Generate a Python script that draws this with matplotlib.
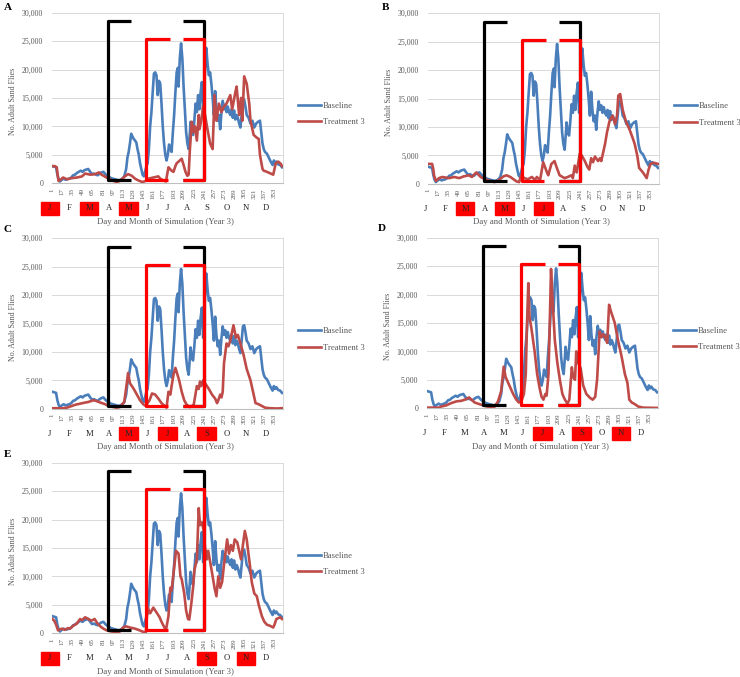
import matplotlib
matplotlib.use('Agg')
import matplotlib.pyplot as plt
from matplotlib.lines import Line2D
from matplotlib.patches import Rectangle
from matplotlib.ticker import FuncFormatter

plt.rcParams['font.family'] = ['Liberation Serif', 'DejaVu Serif']

BLUE = '#4A7EBB'
RED = '#BE4B48'
GREY = '#595959'

months = ['J', 'F', 'M', 'A', 'M', 'J', 'J', 'A', 'S', 'O', 'N', 'D']
day_ticks = list(range(1, 366, 16))
y_ticks = list(range(0, 30001, 5000))

# (day, adult sand flies)
baseline = [
    (1, 3000), (4, 2900), (7, 2800), (9, 1500), (11, 700), (13, 300), (16, 600), (19, 800),
    (22, 600), (25, 700), (28, 800), (31, 1000), (34, 1400), (37, 1500), (40, 1800), (43, 2000),
    (46, 2200), (49, 2000), (52, 2300), (55, 2400), (58, 2500), (61, 2000), (64, 1600), (67, 1700),
    (70, 1500), (73, 1400), (76, 1700), (79, 1900), (82, 2000), (85, 1600), (88, 1300), (91, 1100),
    (94, 900), (97, 800), (100, 700), (103, 600), (106, 500), (109, 600), (112, 800), (115, 1200),
    (118, 2500), (120, 4500), (122, 5500), (124, 7000), (126, 8700), (128, 8200), (130, 7800),
    (132, 7500), (134, 7200), (136, 6000), (138, 5000), (140, 3500), (142, 2500), (144, 1500),
    (146, 1200), (148, 2000), (150, 3000), (152, 3500), (154, 6000), (156, 10000), (158, 12500),
    (160, 16000), (162, 19300), (164, 19500), (166, 19000), (168, 15500), (170, 18000),
    (172, 17500), (174, 14000), (176, 10000), (178, 7000), (180, 5000), (182, 4000), (184, 5000),
    (186, 6800), (188, 6000), (190, 5500), (192, 9000), (194, 12000), (196, 16000), (198, 19500),
    (200, 20300), (201, 17000), (203, 22000), (205, 24600), (207, 22000), (209, 17000),
    (211, 13000), (213, 9000), (215, 7000), (217, 6000), (219, 9000), (220, 10800), (222, 9000),
    (224, 8500), (226, 11000), (228, 14000), (230, 12500), (232, 15500), (234, 13000),
    (236, 16000), (238, 17800), (240, 12500), (243, 20000), (245, 23800), (247, 21000),
    (249, 19000), (251, 19500), (253, 17500), (255, 15000), (257, 12000), (259, 16200),
    (261, 13000), (263, 11000), (265, 12000), (267, 9500), (269, 12500), (271, 14500),
    (273, 13000), (275, 13800), (277, 12500), (279, 13500), (281, 12500), (283, 12000),
    (285, 13000), (287, 11500), (289, 12800), (291, 11200), (293, 12000), (295, 11500),
    (297, 10500), (299, 9800), (301, 12000), (303, 14500), (305, 14700), (307, 13500),
    (309, 12000), (312, 11500), (315, 10500), (318, 11000), (321, 9800), (324, 10500),
    (327, 10800), (330, 11000), (332, 9000), (334, 7000), (336, 6000), (338, 5500), (341, 5200),
    (344, 4500), (347, 3800), (350, 3200), (352, 4000), (354, 3500), (356, 3800), (359, 3300),
    (362, 3200), (365, 2800),
]

treat_a = [
    (1, 3000), (5, 3000), (8, 2800), (10, 1000), (11, 400), (15, 700), (18, 1000), (24, 700),
    (32, 900), (40, 1000), (48, 1200), (53, 1700), (61, 1500), (69, 1600), (75, 1900), (79, 1500),
    (87, 1000), (92, 700), (98, 400), (103, 200), (108, 400), (116, 1200), (121, 1600),
    (127, 1300), (132, 800), (137, 500), (144, 200), (149, 400), (153, 800), (161, 1000),
    (169, 1200), (172, 800), (177, 500), (181, 300), (185, 2800), (190, 2200), (193, 2000),
    (196, 3000), (198, 3500), (203, 4000), (206, 4300), (209, 3200), (212, 2000), (215, 1300),
    (217, 1500), (219, 6000), (222, 10800), (225, 9000), (227, 10000), (230, 7500), (233, 12000),
    (234, 9500), (237, 11000), (240, 13500), (243, 12000), (246, 10000), (251, 7000), (255, 6000),
    (258, 15500), (261, 11000), (265, 14000), (269, 12500), (273, 13500), (277, 14000),
    (283, 15500), (286, 13000), (291, 16000), (293, 17000), (297, 12000), (300, 15000),
    (302, 11000), (305, 18800), (309, 17500), (313, 14000), (315, 11000), (320, 8500),
    (325, 8000), (328, 7800), (330, 5000), (334, 2500), (336, 2200), (341, 2000), (347, 1700),
    (351, 1500), (355, 3500), (359, 3800), (363, 3400), (365, 3000),
]

treat_b = [
    (1, 3500), (7, 3500), (9, 2500), (10, 1500), (13, 500), (18, 1000), (23, 1200), (34, 1000),
    (42, 1200), (50, 1000), (57, 1300), (65, 1500), (70, 1200), (77, 2000), (84, 1200), (91, 800),
    (99, 500), (106, 300), (112, 600), (120, 1300), (125, 1500), (131, 1200), (136, 800),
    (141, 400), (145, 300), (148, 1500), (153, 1000), (159, 800), (165, 1200), (170, 700),
    (173, 1200), (178, 600), (183, 3800), (189, 2000), (191, 1500), (196, 3500), (201, 4000),
    (204, 3000), (209, 1500), (217, 1000), (222, 1200), (228, 1500), (230, 1000), (233, 3200),
    (236, 2000), (241, 5300), (244, 5000), (249, 4000), (253, 3000), (256, 2500), (259, 4500),
    (262, 3800), (265, 4800), (270, 4000), (273, 4500), (275, 4000), (278, 5500), (281, 7000),
    (284, 9000), (288, 11000), (293, 12000), (297, 10500), (300, 12000), (302, 15500),
    (305, 15800), (309, 13000), (314, 11000), (320, 9500), (325, 8000), (328, 7000), (332, 5000),
    (335, 2800), (341, 2000), (344, 1500), (347, 1000), (350, 2500), (353, 3500), (358, 3700),
    (365, 3500),
]

treat_c = [
    (1, 100), (10, 100), (18, 100), (24, 200), (32, 500), (37, 700), (45, 900), (53, 1100),
    (58, 1200), (66, 1500), (70, 1400), (77, 1100), (85, 800), (90, 500), (98, 300), (103, 200),
    (108, 300), (115, 1200), (119, 4500), (121, 6300), (124, 4500), (130, 3500), (135, 2500),
    (140, 1500), (145, 800), (149, 500), (152, 1000), (155, 1500), (159, 2700), (164, 2500),
    (169, 1800), (174, 1000), (180, 400), (182, 200), (185, 3000), (188, 2500), (190, 4000),
    (193, 6000), (196, 7200), (198, 6500), (202, 5000), (206, 3000), (210, 1500), (214, 700),
    (219, 300), (225, 700), (227, 2000), (230, 4000), (233, 3500), (235, 4800), (237, 4000),
    (240, 5000), (243, 4500), (249, 3500), (254, 2500), (259, 1800), (262, 1000), (264, 1500),
    (267, 2500), (269, 2000), (271, 3000), (273, 8000), (277, 11500), (280, 11000), (283, 12000),
    (288, 14700), (292, 12500), (295, 13000), (299, 11500), (304, 9500), (309, 7000),
    (315, 5000), (320, 2500), (323, 1000), (328, 800), (333, 500), (338, 200), (346, 100),
    (357, 50), (365, 100),
]

treat_d = [
    (1, 100), (20, 100), (23, 300), (31, 500), (39, 900), (47, 1200), (55, 1300), (63, 1600),
    (67, 1900), (71, 1500), (76, 1000), (84, 700), (92, 400), (100, 200), (108, 300), (113, 1200),
    (118, 3000), (122, 7300), (125, 5500), (131, 4000), (137, 2500), (142, 1500), (146, 1000),
    (150, 1200), (154, 2500), (157, 6000), (159, 15000), (161, 22000), (163, 16000), (166, 14000),
    (171, 10000), (175, 6000), (179, 3500), (182, 2000), (185, 1500), (188, 2500), (190, 2200),
    (193, 6000), (195, 15000), (197, 24500), (199, 20000), (203, 12000), (207, 8000),
    (211, 5000), (215, 2500), (219, 1500), (223, 800), (226, 1500), (230, 7200), (232, 5500),
    (235, 5000), (237, 10000), (240, 8000), (244, 7000), (248, 4000), (253, 2500), (259, 1800),
    (263, 1500), (267, 2000), (270, 5000), (274, 13500), (277, 12500), (280, 13000),
    (283, 12500), (286, 11500), (289, 18200), (292, 17000), (298, 15000), (303, 12000),
    (309, 9000), (314, 6000), (318, 4500), (321, 1500), (325, 1000), (330, 700), (335, 300),
    (343, 100), (365, 50),
]

treat_e = [
    (1, 2500), (4, 2200), (7, 1500), (10, 500), (16, 800), (21, 600), (26, 900), (29, 800),
    (34, 1300), (40, 1700), (45, 2500), (48, 2300), (53, 2800), (58, 2500), (63, 2200),
    (68, 2500), (72, 1800), (77, 1200), (82, 800), (87, 500), (95, 300), (103, 200), (108, 300),
    (113, 1000), (118, 1200), (124, 1000), (132, 800), (137, 600), (146, 200), (149, 100),
    (152, 4500), (156, 3500), (161, 4500), (167, 3500), (171, 2800), (174, 2000), (181, 500),
    (185, 3000), (188, 8000), (190, 7500), (192, 9500), (195, 12500), (197, 14500), (201, 14000),
    (204, 10000), (206, 9500), (210, 7000), (213, 4000), (216, 2500), (218, 2400), (221, 5000),
    (224, 8000), (226, 11000), (230, 13000), (231, 16000), (233, 22000), (235, 19000),
    (238, 19500), (241, 18000), (243, 15000), (246, 13000), (248, 14500), (252, 12000),
    (255, 10000), (258, 8000), (261, 6500), (264, 10000), (267, 8000), (270, 9000), (273, 12000),
    (278, 16500), (281, 14000), (284, 15500), (287, 14500), (290, 16500), (294, 16000),
    (300, 13000), (306, 18000), (309, 16500), (314, 12000), (317, 9000), (321, 7000),
    (325, 6500), (328, 5000), (333, 3000), (337, 2000), (341, 1500), (346, 1300), (351, 1000),
    (353, 1500), (356, 2500), (362, 2800), (365, 2500),
]

# months (index into `months`) marked with a red box
hl_a = [0, 2, 4]
hl_b = [2, 4, 6]
hl_c = [4, 6, 8]
hl_d = [6, 8, 10]
hl_e = [0, 8, 10]

W, H = 740, 677
AX_W, AX_H = 231, 170.5

fig = plt.figure(figsize=(W / 100, H / 100), dpi=100)


def bracket(ax, x_edge, x_top_end, x_bot_end, top, color):
    ax.plot([x_top_end, x_edge, x_edge, x_bot_end], [top, top, 500, 500], color=color,
            lw=2.3, solid_joinstyle='round', solid_capstyle='butt', zorder=5, clip_on=False)


def add_panel(letter, left, top, treat, hl, letter_xy):
    ax = fig.add_axes([left / W, 1 - (top + AX_H) / H, AX_W / W, AX_H / H])
    bd, bv = zip(*baseline)
    td, tv = zip(*treat)
    ax.plot(bd, bv, color=BLUE, lw=1.9, solid_joinstyle='round', zorder=3)
    ax.plot(td, tv, color=RED, lw=1.9, solid_joinstyle='round', zorder=4)

    # highlighted windows
    bracket(ax, 90, 125, 125, 28500, 'black')
    bracket(ax, 242, 208, 208, 28500, 'black')
    bracket(ax, 149, 187, 185, 25300, '#FF0000')
    bracket(ax, 241, 208, 208, 25300, '#FF0000')

    ax.set_xlim(0.5, 366.5)
    ax.set_ylim(0, 30000)
    ax.set_yticks(y_ticks)
    ax.yaxis.set_major_formatter(FuncFormatter(lambda v, p: f'{int(v):,}'))
    ax.set_xticks(day_ticks)
    ax.set_xticklabels([str(d) for d in day_ticks], rotation=90)
    ax.tick_params(axis='x', length=0, pad=3.5, labelsize=5, labelcolor=GREY)
    ax.tick_params(axis='y', length=0, pad=6.3, labelsize=5.7, labelcolor=GREY)
    ax.yaxis.grid(True, color='#D9D9D9', lw=0.7)
    ax.set_axisbelow(True)
    for s in ['left', 'top']:
        ax.spines[s].set_visible(False)
    ax.spines['bottom'].set_color('#BFBFBF')
    ax.spines['bottom'].set_linewidth(0.8)
    ax.spines['right'].set_color('#D9D9D9')
    ax.spines['right'].set_linewidth(0.7)

    for i, m in enumerate(months):
        x = -0.0087 + 0.0848 * i
        if i in hl:
            ax.add_patch(Rectangle((x - 0.04, -0.146 - 0.038), 0.08, 0.0765,
                                   transform=ax.transAxes, color='#FF0000', clip_on=False))
        ax.text(x, -0.146, m, transform=ax.transAxes, ha='center', va='center',
                fontsize=6.2, color='#262626')

    ax.text(0.49, -0.225, 'Day and Month of Simulation (Year 3)', transform=ax.transAxes,
            ha='center', va='center', fontsize=6.3, color=GREY)
    ax.text(-0.168, 0.48, 'No. Adult Sand Flies', transform=ax.transAxes, rotation=90,
            ha='center', va='center', fontsize=5.8, color=GREY)

    handles = [Line2D([], [], color=BLUE, lw=1.9), Line2D([], [], color=RED, lw=1.9)]
    ax.legend(handles, ['Baseline', 'Treatment 3'], loc='center left',
              bbox_to_anchor=(1.065, 0.405), borderaxespad=0, borderpad=0, frameon=False,
              fontsize=6.2, handlelength=2.7, handletextpad=0.15, labelspacing=1.0,
              labelcolor=GREY)

    fig.text(letter_xy[0] / W, 1 - letter_xy[1] / H, letter, fontsize=8, fontweight='bold',
             ha='left', va='center')
    return ax


add_panel('A', 52, 12.7, treat_a, hl_a, (3.5, 7.5))
add_panel('B', 428, 13.3, treat_b, hl_b, (382, 7.5))
add_panel('C', 52, 238.3, treat_c, hl_c, (3, 229))
add_panel('D', 427, 237.7, treat_d, hl_d, (378, 228.5))
add_panel('E', 52, 462.7, treat_e, hl_e, (3.5, 454.5))

fig.savefig('out.png', dpi=100)
